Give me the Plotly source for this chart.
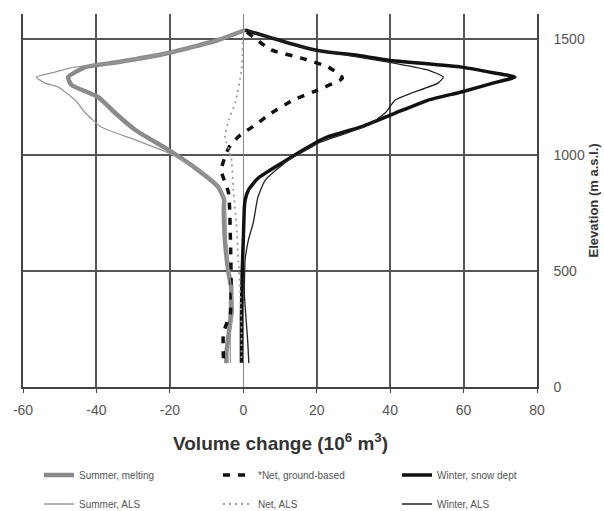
import plotly.graph_objects as go

# Summer, melting (thick grey)
sm_elev = [1539, 1496, 1440, 1401, 1379, 1336, 1302, 1250, 1181, 1108, 1022, 935, 862, 806, 776, 634, 491, 431, 289, 147, 103]
sm_vol = [0.5, -6.8, -20.4, -34, -43, -47.7, -46.8, -39.5, -34.9, -29.4, -20.4, -12.3, -6.8, -5.2, -5.3, -5, -4, -3.3, -3.5, -4.6, -4.6]

# Summer, ALS (thin grey)
sa_elev = [1539, 1496, 1440, 1401, 1379, 1355, 1336, 1310, 1293, 1237, 1181, 1121, 1065, 1009, 935, 862, 806, 634, 491, 400, 319, 246, 103]
sa_vol = [0.5, -6.8, -20.4, -34, -46, -52, -56.4, -54, -50.4, -45.8, -43, -38.7, -29.4, -20.4, -12, -6.5, -5, -4.6, -3.8, -3, -2.7, -3.5, -3.5]

# Net, ground-based (dashed black)
ng_elev = [1530, 1453, 1418, 1379, 1332, 1272, 1237, 1172, 1138, 1078, 1030, 935, 836, 634, 431, 319, 233, 116]
ng_vol = [1, 7.6, 15.8, 23.2, 27, 19, 13.6, 6.8, 4, -1.4, -4, -6, -4, -3.5, -3.3, -3.5, -5.4, -5.4]

# Net, ALS (dotted grey)
na_elev = [1539, 1366, 1224, 1151, 1078, 991, 849, 707, 560, 400, 250, 103]
na_vol = [0, -0.5, -2.2, -4, -5, -3.3, -2.7, -1.9, -1.4, -0.8, -0.5, -0.5]

# Winter, snow depth (thick black)
ws_elev = [1539, 1483, 1453, 1444, 1431, 1409, 1379, 1355, 1336, 1310, 1272, 1237, 1181, 1121, 1078, 1052, 965, 900, 849, 806, 776, 634, 491, 300, 103]
ws_vol = [0.5, 12.3, 19.6, 23, 30.5, 39.5, 59.4, 68, 74, 68, 59.4, 50.4, 41.4, 32, 23, 19.6, 10.4, 4, 1.4, 0.5, 0.3, 0, -0.3, -0.5, -0.5]

# Winter, ALS (thin black)
wa_elev = [1539, 1483, 1453, 1431, 1401, 1366, 1336, 1310, 1267, 1237, 1181, 1129, 1052, 1034, 978, 892, 819, 707, 634, 547, 400, 200, 103]
wa_vol = [0.5, 12.3, 19.6, 28, 39.5, 50.4, 54.5, 53, 45.8, 41.4, 38.6, 34, 20.5, 18.5, 12.3, 6, 4, 2.7, 1.4, 0.5, 0.3, 1.2, 1.5]

x_ticks = [-60, -40, -20, 0, 20, 40, 60, 80]
y_ticks = [0, 500, 1000, 1500]
x_title = "<b>Volume change (10<sup>6</sup> m<sup>3</sup>)</b>"
y_title = "<b>Elevation (m a.s.l.)</b>"

W, H = 604, 511
ML, MT = 23, 14
PW, PH = 514, 373
MR, MB = W - ML - PW, H - MT - PH
SM = 0.5
series = [
    ("Summer, melting", sm_vol, sm_elev, dict(color="#8a8a8a", width=4.5), 0, 0),
    ("*Net, ground-based", ng_vol, ng_elev, dict(color="#111111", width=3.5, dash="7px,8px"), 1, 0),
    ("Winter, snow dept", ws_vol, ws_elev, dict(color="#111111", width=3.5), 2, 0),
    ("Summer, ALS", sa_vol, sa_elev, dict(color="#999999", width=1.3), 0, 1),
    ("Net, ALS", na_vol, na_elev, dict(color="#9a9a9a", width=1.8, dash="2px,4px"), 1, 1),
    ("Winter, ALS", wa_vol, wa_elev, dict(color="#222222", width=1.3), 2, 1),
]
col_x = [39, 218, 397]
row_y = [475, 504]

fig = go.Figure()
legends = {}
for i, (name, xs, ys, ln, col, row) in enumerate(series):
    key = "legend" if i == 0 else f"legend{i + 1}"
    ln = dict(ln, shape="spline", smoothing=SM)
    fig.add_trace(go.Scatter(x=xs, y=ys, mode="lines", name=name, legend=key, line=ln))
    legends[key] = dict(xref="container", yref="container",
                        x=col_x[col] / W, y=1 - row_y[row] / H,
                        xanchor="left", yanchor="middle",
                        font=dict(size=10, color="#555555"),
                        bgcolor="rgba(0,0,0,0)")

fig.add_annotation(text=x_title, xref="paper", yref="paper",
                   x=0.5, y=(MT + PH - 442) / PH, xanchor="center", yanchor="middle",
                   showarrow=False, font=dict(size=19, color="#333333"))
fig.add_annotation(text=y_title, xref="paper", yref="paper",
                   x=(593 - ML) / PW, y=0.5, xanchor="center", yanchor="middle",
                   textangle=-90, showarrow=False, font=dict(size=13, color="#333333"))

fig.update_layout(
    width=W, height=H,
    margin=dict(l=ML, r=MR, t=MT, b=MB, autoexpand=False),
    paper_bgcolor="white", plot_bgcolor="white",
    font=dict(family="Liberation Sans, Arial, sans-serif", color="#444444", size=12),
    xaxis=dict(range=[-60, 80], tickvals=x_ticks, ticktext=[str(v) for v in x_ticks],
               automargin=False,
               showgrid=True, gridcolor="#555555", gridwidth=1.5,
               showline=True, linecolor="#444444", linewidth=1.5,
               ticks="outside", ticklen=4, tickcolor="#444444",
               ticklabelstandoff=5,
               zeroline=True, zerolinecolor="#888888", zerolinewidth=1,
               tickfont=dict(size=14, color="#555555")),
    yaxis=dict(range=[0, 1608], tickvals=y_ticks, side="right", automargin=False,
               showgrid=True, gridcolor="#555555", gridwidth=1.5,
               showline=True, mirror=True, linecolor="#444444", linewidth=1.5,
               zeroline=False, ticks="", ticklabelstandoff=12,
               tickfont=dict(size=14, color="#555555")),
    showlegend=True,
    **legends,
)

fig.write_html("out.html", config={"displayModeBar": False},
               post_script="document.body.style.margin='0';document.body.style.overflow='hidden';")
